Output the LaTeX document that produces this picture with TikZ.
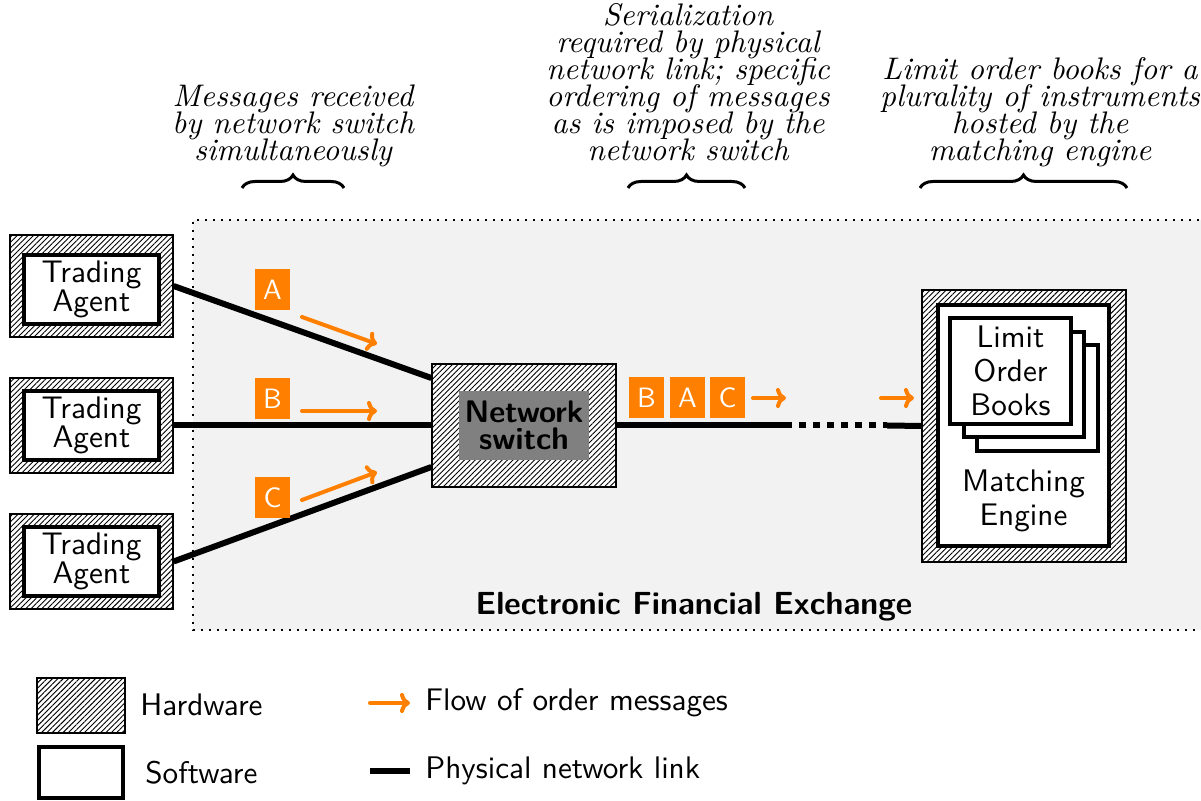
\documentclass[tikz,border=0pt]{standalone}
\usepackage{fontspec}
\setmainfont{lmroman10-regular.otf}[ItalicFont=lmroman10-italic.otf, BoldFont=lmroman10-bold.otf]
\setsansfont{lmsans10-regular.otf}[BoldFont=lmsans10-bold.otf]
\usetikzlibrary{patterns.meta,decorations.pathreplacing,arrows.meta}
\setlength{\lineskiplimit}{-20pt}

\definecolor{msgorange}{RGB}{255,128,0}
\definecolor{exchbg}{RGB}{242,242,242}

\tikzset{
    hardware/.style={draw, line width=0.6pt, fill=white, postaction={pattern={Lines[angle=45, distance=1.9pt, line width=0.45pt]}}, inner sep=0pt},
    software/.style={draw, line width=2.2pt, fill=white, inner sep=0pt, align=center, font=\sffamily\fontsize{15.6}{14.5}\selectfont},
    msg/.style={fill=msgorange, text=white, minimum width=17.5pt, minimum height=20.5pt, inner sep=0pt, font=\sffamily\fontsize{14}{14}\selectfont},
    netlink/.style={line width=3pt},
    flowarrow/.style={msgorange, line width=2pt, line cap=round, -{To[length=5pt,width=10pt]}},
    note/.style={align=center, inner sep=0pt, anchor=south, font=\itshape\fontsize{15.6}{13.5}\selectfont},
    annbrace/.style={decorate, decoration={brace, amplitude=6.5pt}, line width=1.5pt},
    legendtext/.style={anchor=west, inner sep=0pt, font=\sffamily\fontsize{15.6}{15.6}\selectfont},
}

\begin{document}
\begin{tikzpicture}[x=0.5pt, y=-0.5pt]

    \useasboundingbox (0, 0) rectangle (1201, 801);

    % Exchange area
    \fill[exchbg] (193, 220) rectangle (1215, 630);
    \draw[line width=1.2pt, dash pattern=on 1.2pt off 2.8pt] (1215, 220) -- (193, 220) -- (193, 630) -- (1215, 630);
    \node[font=\sffamily\bfseries\fontsize{16}{16}\selectfont] (exchange) at (694, 607) {Electronic Financial Exchange};

    % Trading agents
    \node[hardware, minimum width=81.5pt, minimum height=51pt] (hw1) at (91.5, 286) {};
    \node[software, minimum width=67.25pt, minimum height=34.25pt] (agent1) at (91.5, 289.5) {Trading\\Agent};

    \node[hardware, minimum width=81.5pt, minimum height=47.5pt] (hw2) at (91.5, 425.5) {};
    \node[software, minimum width=67.25pt, minimum height=34.25pt] (agent2) at (91.5, 425.5) {Trading\\Agent};

    \node[hardware, minimum width=81.5pt, minimum height=47.5pt] (hw3) at (91.5, 561.5) {};
    \node[software, minimum width=67.25pt, minimum height=34.25pt] (agent3) at (91.5, 561.5) {Trading\\Agent};

    % Network switch
    \node[hardware, minimum width=92pt, minimum height=61.5pt] (switchhw) at (524, 425.5) {};
    \node[fill=gray, minimum width=65pt, minimum height=34.5pt, inner sep=0pt, align=center,
          font=\sffamily\bfseries\fontsize{15.6}{13.3}\selectfont] (switch) at (524, 425.5) {Network\\switch};

    % Matching engine
    \node[hardware, minimum width=102pt, minimum height=136pt] (enginehw) at (1024, 426) {};
    \node[software, minimum width=85.25pt, minimum height=120.25pt] (engine) at (1023.5, 425.5) {};
    \node[software, minimum width=60.25pt, minimum height=52.75pt] (book3) at (1037.5, 398) {};
    \node[software, minimum width=60.25pt, minimum height=52.75pt] (book2) at (1024, 384.5) {};
    \node[software, minimum width=60.25pt, minimum height=52.75pt, font=\sffamily\fontsize{15.6}{17}\selectfont] (book1) at (1010.5, 371) {Limit\\Order\\Books};
    \node[align=center, inner sep=0pt, font=\sffamily\fontsize{15.6}{17}\selectfont] (enginelabel) at (1023.5, 501) {Matching\\Engine};

    % Physical links
    \draw[netlink] (hw1.east) -- ([yshift=23.75pt]switchhw.west);
    \draw[netlink] (hw2.east) -- (switchhw.west);
    \draw[netlink] (hw3.east) -- ([yshift=-20.75pt]switchhw.west);

    \coordinate (gapstart) at (785, 425.5);
    \coordinate (gapend) at (887, 425.5);
    \draw[netlink] (switchhw.east) -- (gapstart);
    \draw[netlink, dash pattern=on 3.5pt off 3.5pt] (gapstart) -- (gapend);
    \draw[netlink] (gapend) -- (enginehw.west);

    % Messages into the switch
    \node[msg] (msgA) at (272.5, 289.5) {A};
    \node[msg] (msgB) at (272.5, 398.5) {B};
    \node[msg] (msgC) at (272.5, 497.5) {C};
    \draw[flowarrow] (302, 317) -- (377, 344);
    \draw[flowarrow] (302, 411) -- (377, 411);
    \draw[flowarrow] (302, 500) -- (377, 472);

    % Serialized messages
    \node[msg] (outB) at (646.5, 398) {B};
    \node[msg] (outA) at (687.5, 398) {A};
    \node[msg] (outC) at (727.5, 398) {C};
    \draw[flowarrow] (753, 398) -- (786, 398);
    \draw[flowarrow] (881, 398) -- (914, 398);

    % Annotations
    \node[note] (note1) at (293, 169) {Messages received\\by network switch\\simultaneously\strut};
    \draw[annbrace] (242, 188) -- (344, 188);

    \node[note] (note2) at (688, 169) {Serialization\\required by physical\\network link; specific\\ordering of messages\\as is imposed by the\\network switch\strut};
    \draw[annbrace] (628, 188) -- (745, 188);

    \node[note] (note3) at (1040, 169) {Limit order books for a\\plurality of instruments\\hosted by the\\matching engine\strut};
    \draw[annbrace] (920, 188) -- (1127, 188);

    % Legend
    \node[hardware, minimum width=44pt, minimum height=27.5pt] (keyhw) at (81, 705.5) {};
    \node[legendtext] (keyhwtext) at (140, 705) {Hardware};
    \node[software, minimum width=41.75pt, minimum height=25.25pt] (keysw) at (81, 772.5) {};
    \node[legendtext] (keyswtext) at (145, 773) {Software};

    \coordinate (keyflow) at (370, 703);
    \node[legendtext] (keyflowtext) at (425, 703) {Flow of order messages};
    \draw[flowarrow] (keyflow) -- ([xshift=-7.5pt]keyflowtext.west);
    \coordinate (keylink) at (370, 771);
    \node[legendtext] (keylinktext) at (425, 771) {Physical network link};
    \draw[netlink] (keylink) -- ([xshift=-7.5pt]keylinktext.west);

\end{tikzpicture}
\end{document}
